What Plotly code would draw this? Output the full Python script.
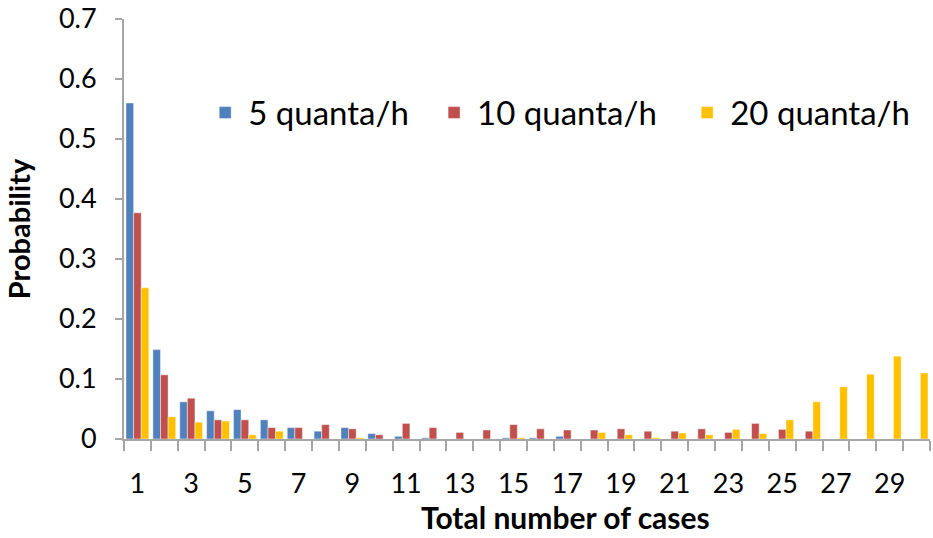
import plotly.graph_objects as go

cases = list(range(1, 31))
q5 = [0.560, 0.149, 0.062, 0.047, 0.049, 0.032, 0.019, 0.013, 0.019, 0.009,
      0.0045, 0.002, 0.0, 0.0, 0.002, 0.002, 0.0045, 0.0, 0.0, 0.0,
      0.0, 0.0, 0.0, 0.0, 0.0, 0.0, 0.0, 0.0, 0.0, 0.0]
q10 = [0.377, 0.107, 0.068, 0.032, 0.032, 0.019, 0.019, 0.024, 0.017, 0.007,
       0.026, 0.019, 0.011, 0.015, 0.024, 0.017, 0.015, 0.015, 0.017, 0.013,
       0.013, 0.017, 0.011, 0.026, 0.016, 0.013, 0.0, 0.0, 0.0, 0.0]
q20 = [0.252, 0.037, 0.028, 0.030, 0.007, 0.013, 0.0, 0.0, 0.002, 0.0,
       0.0, 0.0, 0.0, 0.0, 0.002, 0.0, 0.0, 0.011, 0.007, 0.002,
       0.010, 0.007, 0.016, 0.009, 0.032, 0.062, 0.087, 0.108, 0.138, 0.110]
series_names = ["5 quanta/h", "10 quanta/h", "20 quanta/h"]
colors = ["#4F81BD", "#C0504D", "#FFC000"]
x_tick_labels = [str(v) for v in range(1, 30, 2)]
y_tick_values = [0, 0.1, 0.2, 0.3, 0.4, 0.5, 0.6, 0.7]
y_tick_labels = ["0", "0.1", "0.2", "0.3", "0.4", "0.5", "0.6", "0.7"]
x_title = "Total number of cases"
y_title = "Probability"

FONT = "Lato, Calibri, Carlito, sans-serif"
legend_ids = ["legend", "legend2", "legend3"]
legend_x = [0.097, 0.381, 0.695]

fig = go.Figure()
for name, vals, col, lg in zip(series_names, [q5, q10, q20], colors, legend_ids):
    fig.add_trace(go.Bar(
        x=cases, y=vals, name=name, legend=lg,
        marker=dict(color=col, line=dict(color="rgba(255,255,255,0.45)", width=1)),
    ))

legend_style = dict(
    orientation="h", y=0.777, xanchor="left", yanchor="middle",
    font=dict(family=FONT, size=33, color="#000000"),
    bgcolor="rgba(0,0,0,0)", itemwidth=36,
)

fig.update_layout(
    width=933, height=538,
    margin=dict(l=124, r=3, t=19, b=99),
    paper_bgcolor="white", plot_bgcolor="white",
    barmode="group", bargap=0.15, bargroupgap=0,
    font=dict(family=FONT, size=27, color="#000000"),
    showlegend=True,
    legend=dict(x=legend_x[0], **legend_style),
    legend2=dict(x=legend_x[1], **legend_style),
    legend3=dict(x=legend_x[2], **legend_style),
    annotations=[dict(
        text="<b>" + x_title + "</b>", xref="paper", yref="paper",
        x=0.548, y=-0.2325, xanchor="center", yanchor="bottom", showarrow=False,
        font=dict(family=FONT, size=30, color="#000000"),
    )],
)

fig.update_xaxes(
    range=[0.5, 30.5], automargin=False,
    tickmode="array", tickvals=list(range(1, 30, 2)), ticktext=x_tick_labels,
    ticks="", ticklabelstandoff=20,
    tickfont=dict(family=FONT, size=27, color="#000000"),
    minor=dict(tickmode="linear", tick0=0.5, dtick=1, ticks="outside",
               ticklen=10, tickcolor="#A6A6A6", tickwidth=2, showgrid=False),
    showline=True, linecolor="#A6A6A6", linewidth=2,
    showgrid=False, zeroline=False,
)
fig.update_yaxes(
    range=[0, 0.7], automargin=False,
    tickmode="array", tickvals=y_tick_values, ticktext=y_tick_labels,
    ticks="outside", ticklen=7, tickcolor="#A6A6A6", tickwidth=1.5,
    ticklabelstandoff=13,
    tickfont=dict(family=FONT, size=27, color="#000000"),
    showline=True, linecolor="#A6A6A6", linewidth=2,
    showgrid=False, zeroline=False,
    title=dict(text="<b>" + y_title + "</b>", font=dict(family=FONT, size=29), standoff=20),
)

fig.write_html("out.html")
